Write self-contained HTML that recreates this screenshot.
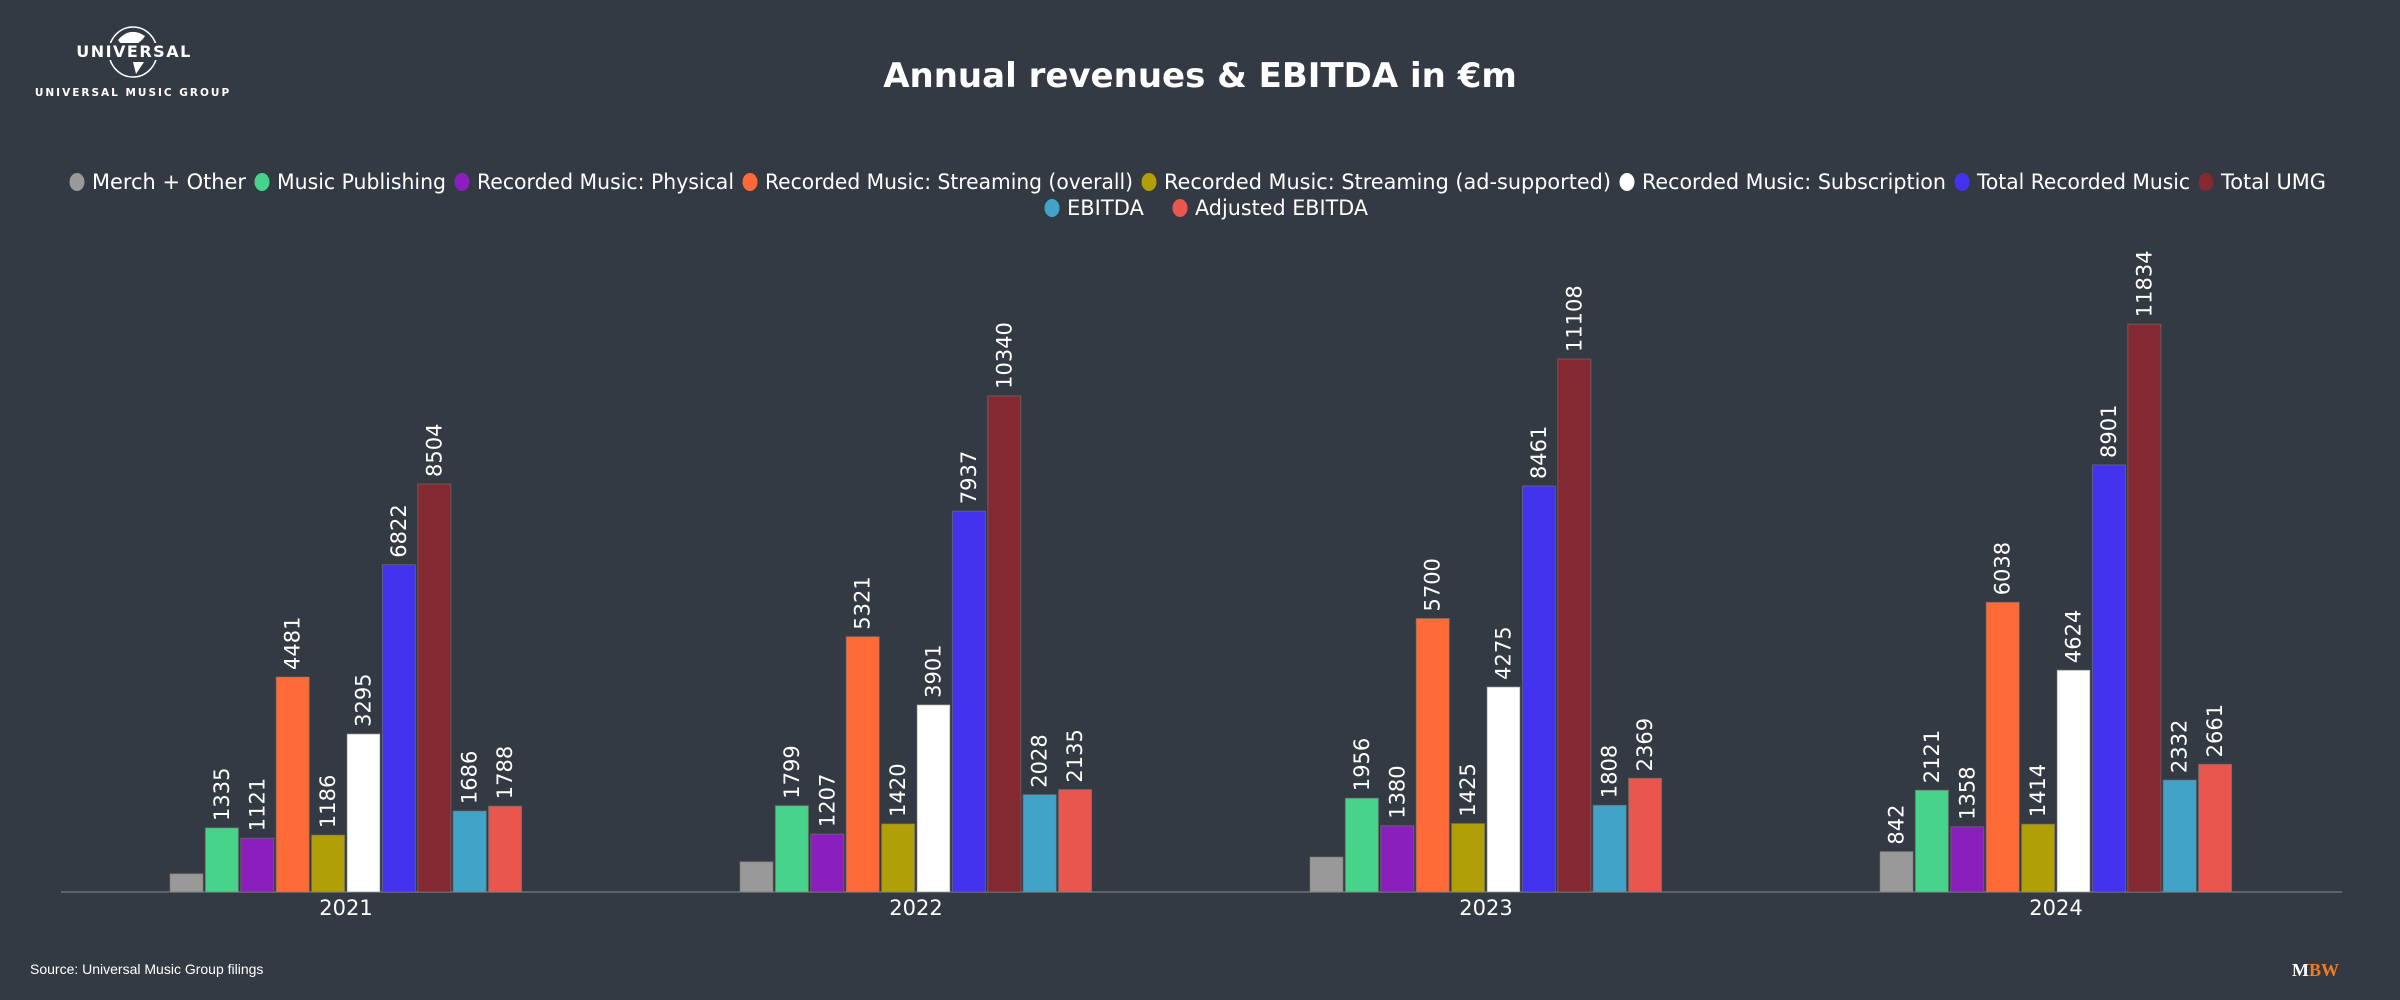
<!DOCTYPE html>
<html><head><meta charset="utf-8"><style>
html,body{margin:0;padding:0;background:#343a43;}
svg{display:block}
text{font-family:"DejaVu Sans","Liberation Sans",sans-serif;fill:#fff}
</style></head><body>
<svg id="s" width="2400" height="1000" viewBox="0 0 2400 1000" xmlns="http://www.w3.org/2000/svg">
<rect width="2400" height="1000" fill="#343a43"/>
<ellipse cx="133" cy="52" rx="24" ry="25" fill="none" stroke="#fff" stroke-width="1.5"/>
<path d="M118 40 Q130 26 145 36 Q140 44 132 45 Q128 52 124 48 Z" fill="#fff"/>
<path d="M133 62 L144 62 L136 74 Z" fill="#fff"/>
<rect x="82" y="43" width="104" height="17" fill="#343a43"/>
<text x="134" y="57" text-anchor="middle" font-size="16" font-weight="bold" letter-spacing="1.5">UNIVERSAL</text>
<text x="133" y="96" text-anchor="middle" font-size="10.5" font-weight="bold" letter-spacing="2">UNIVERSAL MUSIC GROUP</text>
<text x="1200" y="87" text-anchor="middle" font-size="34" font-weight="bold">Annual revenues &amp; EBITDA in €m</text>
<g id="legend" font-size="21"></g>
<line x1="61" y1="892" x2="2342" y2="892" stroke="#6b7079" stroke-width="1.5"/>
<g id="bars"></g>
<g font-size="21" text-anchor="middle">
<text x="346" y="915">2021</text><text x="916" y="915">2022</text><text x="1486" y="915">2023</text><text x="2056" y="915">2024</text>
</g>
<text x="30" y="974" font-size="14" style="font-family:'Liberation Sans',sans-serif">Source: Universal Music Group filings</text>
<text x="2292" y="976" font-size="18" font-weight="bold" style="font-family:'Liberation Serif',serif">M<tspan style="fill:#f47a20">BW</tspan></text>
</svg>
<script>
const NS="http://www.w3.org/2000/svg";
const cols=["#999999","#48d38a","#8a1fbd","#ff6a37","#b19f08","#ffffff","#4433ee","#842932","#41a3c7","#e8564d"];
const names=["Merch + Other","Music Publishing","Recorded Music: Physical","Recorded Music: Streaming (overall)","Recorded Music: Streaming (ad-supported)","Recorded Music: Subscription","Total Recorded Music","Total UMG","EBITDA","Adjusted EBITDA"];
const lx=[77,262,462,750,1149,1627,1962,2206,1052,1180];
const ends=[262,462,750,1149,1627,1962,2206,2342,0,1384];
const lg=document.getElementById("legend");
names.forEach((n,i)=>{const y=i<8?182:208;
 const c=document.createElementNS(NS,"ellipse");c.setAttribute("cx",lx[i]);c.setAttribute("cy",y);c.setAttribute("rx",7.5);c.setAttribute("ry",9);c.setAttribute("fill",cols[i]);lg.appendChild(c);
 const t=document.createElementNS(NS,"text");t.setAttribute("x",lx[i]+15);t.setAttribute("y",y+7);
 if(ends[i]){t.setAttribute("textLength",ends[i]-lx[i]-31);t.setAttribute("lengthAdjust","spacingAndGlyphs");}
 t.textContent=n;lg.appendChild(t);});
const data=[[380,1335,1121,4481,1186,3295,6822,8504,1686,1788],[630,1799,1207,5321,1420,3901,7937,10340,2028,2135],[730,1956,1380,5700,1425,4275,8461,11108,1808,2369],[842,2121,1358,6038,1414,4624,8901,11834,2332,2661]];
const centers=[346,916,1486,2056];const k=0.04798;const bg=document.getElementById("bars");
data.forEach((d,g)=>{d.forEach((v,i)=>{const x=centers[g]-177+i*35.4+1;const h=v*k;const y=892-h;
 const r=document.createElementNS(NS,"rect");r.setAttribute("x",x.toFixed(1));r.setAttribute("y",y.toFixed(1));r.setAttribute("width",33);r.setAttribute("height",h.toFixed(1));r.setAttribute("fill",cols[i]);r.setAttribute("stroke","rgba(120,120,120,0.6)");r.setAttribute("stroke-width",1);bg.appendChild(r);
 if(i>0||g==3){const t=document.createElementNS(NS,"text");const cx=x+16.5+7,cy=y-7;t.setAttribute("x",cx);t.setAttribute("y",cy);t.setAttribute("font-size",21);t.setAttribute("transform",`rotate(-90 ${cx} ${cy})`);t.textContent=v;bg.appendChild(t);}
});});
</script>
</body></html>
